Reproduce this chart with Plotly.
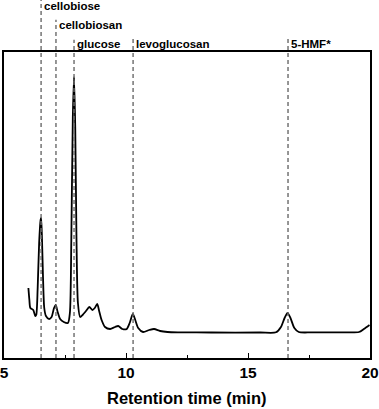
import plotly.graph_objects as go

# Chromatogram (retention time in min, detector signal in arbitrary units)
time_min = [6.00, 6.04, 6.08, 6.20, 6.28, 6.32, 6.38, 6.44, 6.50, 6.52, 6.55, 6.60, 6.65, 6.72,
            6.85, 6.95, 7.05, 7.12, 7.20, 7.30, 7.45, 7.62, 7.70, 7.76, 7.82, 7.87, 7.92, 7.97,
            8.03, 8.12, 8.22, 8.36, 8.50, 8.62, 8.72, 8.82, 8.90, 9.00, 9.14, 9.35, 9.55, 9.68,
            9.85, 10.03, 10.15, 10.28, 10.38, 10.50, 10.70, 10.95, 11.15, 11.40, 11.70, 12.20,
            13.5, 15.5, 16.15, 16.35, 16.50, 16.62, 16.74, 16.90, 17.08, 17.6, 19.0, 19.55,
            19.75, 19.98]
signal = [70, 58, 50, 48, 42, 43, 70, 115, 138, 140, 125, 80, 50, 42,
          39, 41, 50, 53, 46, 39, 36, 35, 45, 120, 240, 281, 230, 120,
          55, 41, 43, 47, 51, 48, 50, 54, 47, 38, 31, 29, 31, 32,
          29, 29, 35, 44, 38, 30, 26, 28, 29, 27, 26, 25.7,
          25.5, 25.5, 25.7, 31, 40, 45, 40, 30, 26, 25.6, 25.6, 26,
          29, 33]

# Reference compounds
compounds = ["cellobiose", "cellobiosan", "glucose", "levoglucosan", "5-HMF*"]
compound_times = [6.52, 7.13, 7.87, 10.29, 16.64]
line_tops = [1.170, 1.105, 1.040, 1.050, 1.050]   # paper coords
label_levels = [1.150, 1.088, 1.026, 1.026, 1.026]

x_ticks = [5, 10, 15, 20]

FONT = "Liberation Sans, Arial, sans-serif"

fig = go.Figure()
fig.add_trace(go.Scatter(x=time_min, y=signal, mode="lines",
                         line=dict(color="black", width=1.8, shape="spline", smoothing=0.7),
                         hoverinfo="skip", showlegend=False))

for name, t, top, lvl in zip(compounds, compound_times, line_tops, label_levels):
    fig.add_shape(type="line", xref="x", yref="paper", x0=t, x1=t, y0=0, y1=top,
                  line=dict(color="#6a6a6a", width=1.4, dash="4px,3px"), layer="above")
    fig.add_annotation(x=t, y=lvl, xref="x", yref="paper", text=f"<b>{name}</b>", showarrow=False,
                       xanchor="left", yanchor="middle", xshift=1,
                       font=dict(family=FONT, size=11.5, color="black"))

fig.add_annotation(x=0.5, y=-0.13, xref="paper", yref="paper", text="<b>Retention time (min)</b>",
                   showarrow=False, xanchor="center", yanchor="middle",
                   font=dict(family=FONT, size=16.5, color="black"))

fig.update_layout(
    width=379, height=409,
    margin=dict(l=4, r=9, t=52, b=51),
    paper_bgcolor="white", plot_bgcolor="white",
    showlegend=False,
    font=dict(family=FONT, color="black"),
)
fig.update_xaxes(range=[5, 20], tickvals=x_ticks, ticktext=[f"<b>{v}</b>" for v in x_ticks],
                 ticks="inside", ticklen=5, tickwidth=1.2, tickcolor="black",
                 minor=dict(tickvals=[7.5, 12.5, 17.5], ticks="inside", ticklen=3, tickwidth=1.2, tickcolor="black"),
                 tickfont=dict(size=15.5, family=FONT, color="black"),
                 ticklabeloverflow="allow",
                 showline=True, linecolor="black", linewidth=1.5, mirror=True,
                 showgrid=False, zeroline=False, automargin=False)
fig.update_yaxes(range=[0, 306], showticklabels=False, ticks="",
                 showline=True, linecolor="black", linewidth=1.5, mirror=True,
                 showgrid=False, zeroline=False, automargin=False)

fig.write_html("out.html", config={"displayModeBar": False},
               post_script="document.body.style.margin='0';")
